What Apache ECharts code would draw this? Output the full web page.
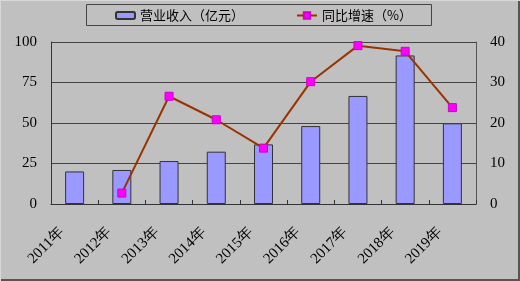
<!DOCTYPE html>
<html><head><meta charset="utf-8">
<script src="https://cdn.jsdelivr.net/npm/echarts@6/dist/echarts.min.js"></script>
<style>html,body{margin:0;padding:0;background:#c0c0c0}#c{width:520px;height:281px}</style>
</head><body><div id="c"></div>
<script>
const categories = ['2011年','2012年','2013年','2014年','2015年','2016年','2017年','2018年','2019年'];
const revenue = [20.1, 21, 26.5, 32.3, 36.8, 48.1, 66.7, 91.7, 49.8];
const growth = [null, 2.7, 26.6, 20.8, 13.8, 30.2, 39.1, 37.7, 23.8];
const leftTicks = [0, 25, 50, 75, 100];
const rightTicks = [0, 10, 20, 30, 40];
const revName = '营业收入（亿元）';
const growthName = '同比增速（%）';

const chart = echarts.init(document.getElementById('c'));
const serif = '"Liberation Serif","Times New Roman",serif';
const cjk = '"Noto Sans CJK SC",sans-serif';
chart.setOption({
  backgroundColor: '#c0c0c0',
  animation: false,
  graphic: [
    {type:'rect', shape:{x:86.5,y:4.5,width:345,height:21}, style:{fill:'none',stroke:'#444',lineWidth:1}, z:0},
    {type:'line', shape:{x1:0,y1:280,x2:520,y2:280}, style:{stroke:'#555',lineWidth:2}},
    {type:'line', shape:{x1:519,y1:0,x2:519,y2:281}, style:{stroke:'#555',lineWidth:2}},
    {type:'line', shape:{x1:0,y1:0.5,x2:520,y2:0.5}, style:{stroke:'#d8d8d8',lineWidth:1}},
    {type:'line', shape:{x1:0.5,y1:0,x2:0.5,y2:281}, style:{stroke:'#d8d8d8',lineWidth:1}}
  ],
  legend: [
    {data:[revName], left:115, top:9, padding:0, itemWidth:19, itemHeight:7, itemGap:4,
     textStyle:{fontFamily:cjk, fontSize:13, color:'#000'}},
    {data:[growthName], left:296, top:9, padding:0, itemWidth:20, itemHeight:8, itemGap:3,
     textStyle:{fontFamily:cjk, fontSize:13, color:'#000'}}
  ],
  grid: {left:51, right:44, top:42, bottom:77},
  xAxis: {
    type:'category', data:categories,
    axisLine:{lineStyle:{color:'#333', width:1}},
    axisTick:{show:true, inside:true, length:4, lineStyle:{color:'#333'}},
    axisLabel:{rotate:45, fontFamily:serif, fontSize:15, color:'#000', margin:13, interval:0,
      padding:[0,18,0,0]}
  },
  yAxis: [
    {type:'value', min:0, max:100, interval:25,
     axisLine:{show:true, lineStyle:{color:'#333'}},
     axisTick:{show:false},
     splitLine:{lineStyle:{color:'#444', width:1}},
     axisLabel:{fontFamily:serif, fontSize:15, color:'#000', margin:14}},
    {type:'value', min:0, max:40, interval:10,
     axisLine:{show:true, lineStyle:{color:'#555'}},
     axisTick:{show:false},
     splitLine:{show:false},
     axisLabel:{fontFamily:serif, fontSize:15, color:'#000', margin:14}}
  ],
  series: [
    {name:revName, type:'bar', data:revenue, barWidth:19, yAxisIndex:0,
     itemStyle:{color:'#9999ff', borderColor:'#333', borderWidth:1}},
    {name:growthName, type:'line', data:growth, yAxisIndex:1,
     symbol:'rect', symbolSize:8, showAllSymbol:true,
     lineStyle:{color:'#993300', width:2},
     itemStyle:{color:'#ff00ff', borderColor:'#cc00cc', borderWidth:1}}
  ]
});
</script></body></html>
